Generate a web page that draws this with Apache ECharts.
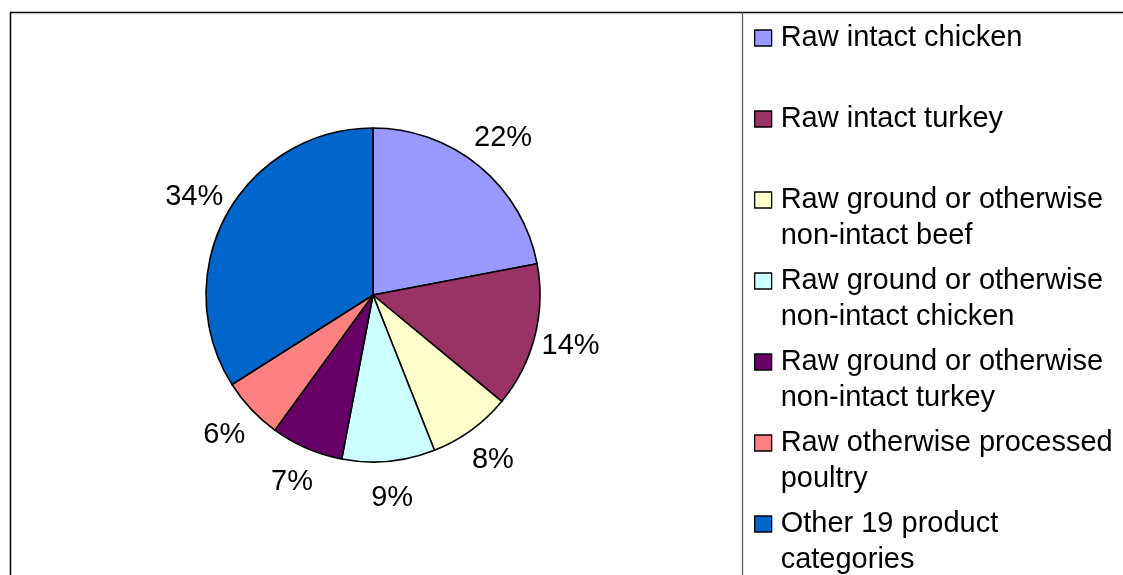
<!DOCTYPE html>
<html>
<head>
<meta charset="utf-8">
<script src="https://cdn.jsdelivr.net/npm/echarts@6/dist/echarts.min.js"></script>
<style>
html,body{margin:0;padding:0;background:#fff;}
#chart{width:1123px;height:575px;}
</style>
</head>
<body>
<div id="chart"></div>
<script>
const categories = [
  'Raw intact chicken',
  'Raw intact turkey',
  'Raw ground or otherwise non-intact beef',
  'Raw ground or otherwise non-intact chicken',
  'Raw ground or otherwise non-intact turkey',
  'Raw otherwise processed poultry',
  'Other 19 product categories'
];
const shares = [22, 14, 8, 9, 7, 6, 34];
const legendLabels = [
  'Raw intact chicken',
  'Raw intact turkey',
  'Raw ground or otherwise\nnon-intact beef',
  'Raw ground or otherwise\nnon-intact chicken',
  'Raw ground or otherwise\nnon-intact turkey',
  'Raw otherwise processed\npoultry',
  'Other 19 product\ncategories'
];
const colors = ['#9999FF', '#993366', '#FFFFCC', '#CCFFFF', '#660066', '#FF8080', '#0066CC'];

const FONT = '"Liberation Sans", Arial, Helvetica, sans-serif';
const pieData = categories.map((n, i) => ({ name: n, value: shares[i], itemStyle: { color: colors[i] } }));
const iconCenters = [38, 119, 200, 281, 362, 443, 524];
const LH = 36;

const legends = categories.map((name, i) => {
  const lines = legendLabels[i].split('\n').length;
  const half = lines === 1 ? LH / 2 : (LH * 3) / 2;
  const txt = lines === 1 ? legendLabels[i] : ' \n' + legendLabels[i];
  return {
    orient: 'vertical',
    left: 749,
    top: iconCenters[i] - 5 - half,
    data: [name],
    selectedMode: false,
    icon: 'rect',
    itemWidth: 17,
    itemHeight: 16,
    itemStyle: { borderColor: '#000', borderWidth: 1.3 },
    formatter: () => txt,
    textStyle: {
      fontFamily: FONT, fontSize: 29, color: '#000', lineHeight: LH,
      padding: [0, 0, 0, 4]
    }
  };
});

const chart = echarts.init(document.getElementById('chart'), null, { renderer: 'canvas' });
chart.setOption({
  animation: false,
  backgroundColor: '#fff',
  color: colors,
  legend: legends,
  graphic: [
    { type: 'rect', shape: { x: 10.5, y: 12.5, width: 1200, height: 700 }, style: { fill: 'none', stroke: '#000', lineWidth: 1.5 }, silent: true, z: -1 },
    { type: 'line', shape: { x1: 742.5, y1: 12, x2: 742.5, y2: 575 }, style: { stroke: '#555', lineWidth: 1.2 }, silent: true, z: -1 }
  ],
  series: [
    {
      type: 'pie',
      center: [373, 295],
      radius: [0, 167],
      startAngle: 90,
      clockwise: true,
      silent: true,
      label: { show: false },
      labelLine: { show: false },
      itemStyle: { borderColor: '#000', borderWidth: 1.6 },
      emphasis: { disabled: true },
      data: pieData
    },
    {
      type: 'pie',
      center: [373, 295],
      radius: [0, 402],
      startAngle: 90,
      clockwise: true,
      silent: true,
      itemStyle: { color: 'rgba(0,0,0,0)', borderWidth: 0 },
      label: {
        show: true, position: 'inside', formatter: '{c}%',
        fontFamily: FONT, fontSize: 29, color: '#000'
      },
      labelLine: { show: false },
      emphasis: { disabled: true },
      data: categories.map((n, i) => ({ name: n, value: shares[i] }))
    }
  ]
});
</script>
</body>
</html>
